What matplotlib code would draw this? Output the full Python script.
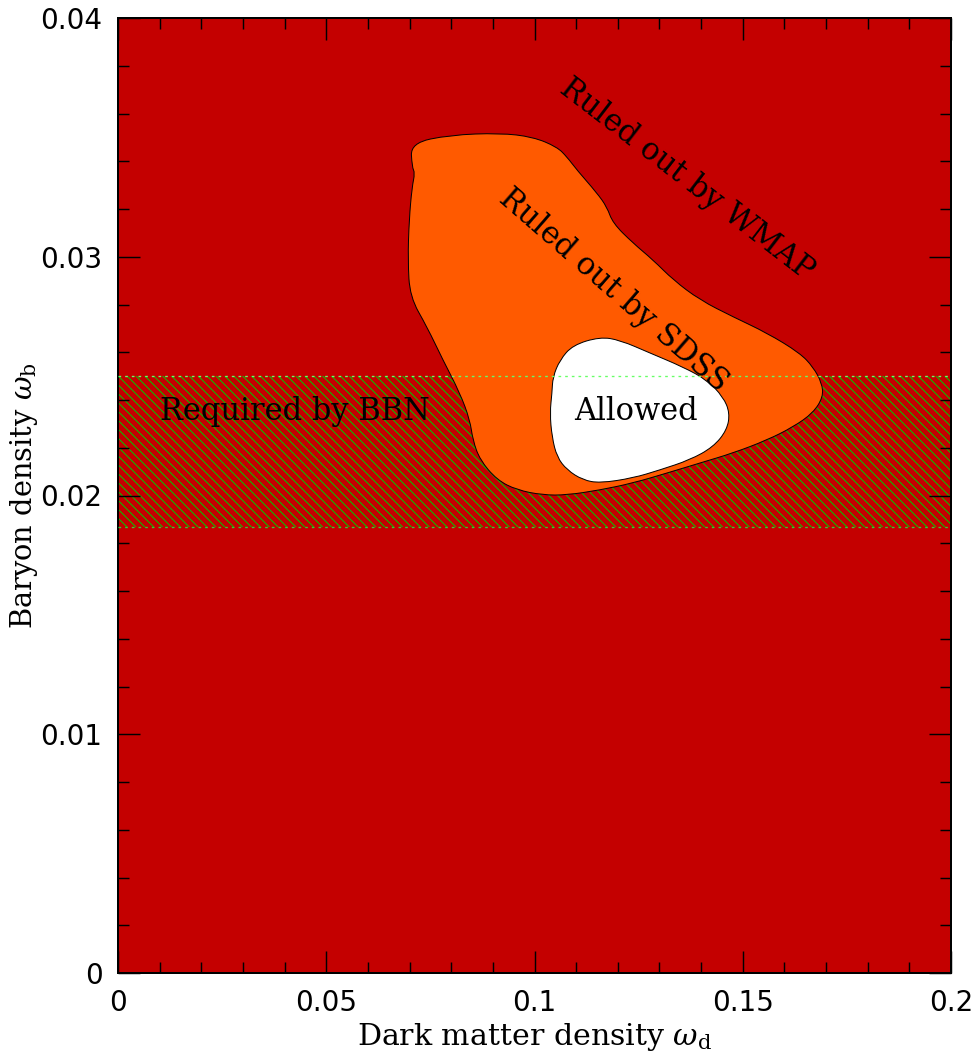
import matplotlib
matplotlib.use("Agg")
import matplotlib.pyplot as plt
from matplotlib.patches import PathPatch
from matplotlib.path import Path
from matplotlib.ticker import MultipleLocator, FixedFormatter, FixedLocator

plt.rcParams['font.family'] = ['DejaVu Serif']
plt.rcParams['mathtext.fontset'] = 'dejavuserif'
plt.rcParams['hatch.linewidth'] = 0.9

# ---- data ----
xlim = (0.0, 0.2)
ylim = (0.0, 0.04)
xticks = [0, 0.05, 0.1, 0.15, 0.2]
xticklabels = ["0", "0.05", "0.1", "0.15", "0.2"]
yticks = [0, 0.01, 0.02, 0.03, 0.04]
yticklabels = ["0", "0.01", "0.02", "0.03", "0.04"]

bbn_low = 0.0187
bbn_high = 0.025

sdss_x = [0.0703, 0.0797, 0.0917, 0.0996, 0.1054, 0.1078, 0.1102, 0.1150, 0.1174,
          0.1188, 0.1236, 0.1285, 0.1333, 0.1397, 0.1477, 0.1558, 0.1637, 0.1669,
          0.1690, 0.1693, 0.1669, 0.1621, 0.1558, 0.1477, 0.1397, 0.1318, 0.1236,
          0.1157, 0.1078, 0.1020, 0.0958, 0.0910, 0.0869, 0.0852, 0.0845, 0.0821,
          0.0780, 0.0742, 0.0701, 0.0696, 0.0699, 0.0706, 0.0713, 0.0706]
sdss_y = [0.03476, 0.03510, 0.03518, 0.03502, 0.03460, 0.03418, 0.03363, 0.03267, 0.03208,
          0.03141, 0.03058, 0.02986, 0.02903, 0.02819, 0.02748, 0.02681, 0.02597, 0.02538,
          0.02471, 0.02413, 0.02346, 0.02287, 0.02232, 0.02178, 0.02136, 0.02094, 0.02052,
          0.02023, 0.02002, 0.02002, 0.02023, 0.02065, 0.02149, 0.02232, 0.02316, 0.02429,
          0.02568, 0.02706, 0.02832, 0.02986, 0.03154, 0.03292, 0.03351, 0.03376]

allowed_x = [0.1044, 0.1061, 0.1092, 0.1157, 0.1205, 0.1277, 0.1357, 0.1414, 0.1453,
             0.1469, 0.1462, 0.1429, 0.1373, 0.1301, 0.1236, 0.1157, 0.1116, 0.1078,
             0.1054, 0.1042, 0.1037, 0.1042]
allowed_y = [0.02496, 0.02568, 0.02630, 0.02664, 0.02651, 0.02597, 0.02538, 0.02484, 0.02413,
             0.02346, 0.02274, 0.02203, 0.02149, 0.02107, 0.02073, 0.02052, 0.02065, 0.02107,
             0.02161, 0.02245, 0.02346, 0.02429]

labels = ["Ruled out by WMAP", "Ruled out by SDSS", "Allowed", "Required by BBN"]
label_x = [0.1365, 0.1190, 0.1243, 0.0425]
label_y = [0.03325, 0.02860, 0.02350, 0.02350]
label_rot = [-37.5, -41.0, 0.0, 0.0]

# ---- colours ----
c_red = '#c40000'
c_orange = '#ff5a00'
c_green = '#00c800'


def smooth_closed_path(xs, ys):
    """Closed path through the outline vertices, rounded with quadratic Bezier corners."""
    pts = list(zip(xs, ys))
    n = len(pts)
    mids = [((pts[i][0] + pts[(i + 1) % n][0]) / 2, (pts[i][1] + pts[(i + 1) % n][1]) / 2)
            for i in range(n)]
    verts = [mids[-1]]
    codes = [Path.MOVETO]
    for i in range(n):
        verts += [pts[i], mids[i]]
        codes += [Path.CURVE3, Path.CURVE3]
    verts.append(mids[-1])
    codes.append(Path.CLOSEPOLY)
    return Path(verts, codes)


fig = plt.figure(figsize=(976 / 80, 1063 / 80), dpi=80)
ax = fig.add_axes([118 / 976, 90 / 1063, 833 / 976, 955 / 1063])
ax.set_xlim(*xlim)
ax.set_ylim(*ylim)
ax.set_facecolor(c_red)

ax.axhspan(bbn_low, bbn_high, facecolor='none', edgecolor=c_green, hatch='\\\\\\',
           linewidth=0, zorder=1)

ax.add_patch(PathPatch(smooth_closed_path(sdss_x, sdss_y), facecolor=c_orange,
                       edgecolor='black', linewidth=0.9, zorder=2))
ax.add_patch(PathPatch(smooth_closed_path(allowed_x, allowed_y), facecolor='white',
                       edgecolor='black', linewidth=0.9, zorder=3))

ax.axhline(bbn_high, color='#66ff66', linestyle=(0, (2, 3)), linewidth=1.2, zorder=4)
ax.axhline(bbn_low, color='#33cc33', linestyle=(0, (2, 3)), linewidth=1.2, zorder=4)

for t, x, y, r in zip(labels, label_x, label_y, label_rot):
    ax.text(x, y, t, rotation=r, rotation_mode='anchor', ha='center', va='center',
            fontsize=27.5, color='black', zorder=5)

ax.xaxis.set_major_locator(FixedLocator(xticks))
ax.xaxis.set_major_formatter(FixedFormatter(xticklabels))
ax.yaxis.set_major_locator(FixedLocator(yticks))
ax.yaxis.set_major_formatter(FixedFormatter(yticklabels))
ax.xaxis.set_minor_locator(MultipleLocator(0.01))
ax.yaxis.set_minor_locator(MultipleLocator(0.002))
ax.tick_params(which='both', direction='in', top=True, right=True, width=1.3, colors='black')
ax.tick_params(which='major', length=20, labelsize=25, pad=14)
ax.tick_params(which='minor', length=10)
for lab in ax.get_xticklabels() + ax.get_yticklabels():
    lab.set_family('DejaVu Sans')
for s in ax.spines.values():
    s.set_linewidth(1.8)

ax.set_xlabel(r"Dark matter density $\omega_{\rm d}$", fontsize=27, labelpad=4)
ax.set_ylabel(r"Baryon density $\omega_{\rm b}$", fontsize=26)
ax.yaxis.set_label_coords(-0.094, 0.5)

fig.savefig("out.png", dpi=80)
